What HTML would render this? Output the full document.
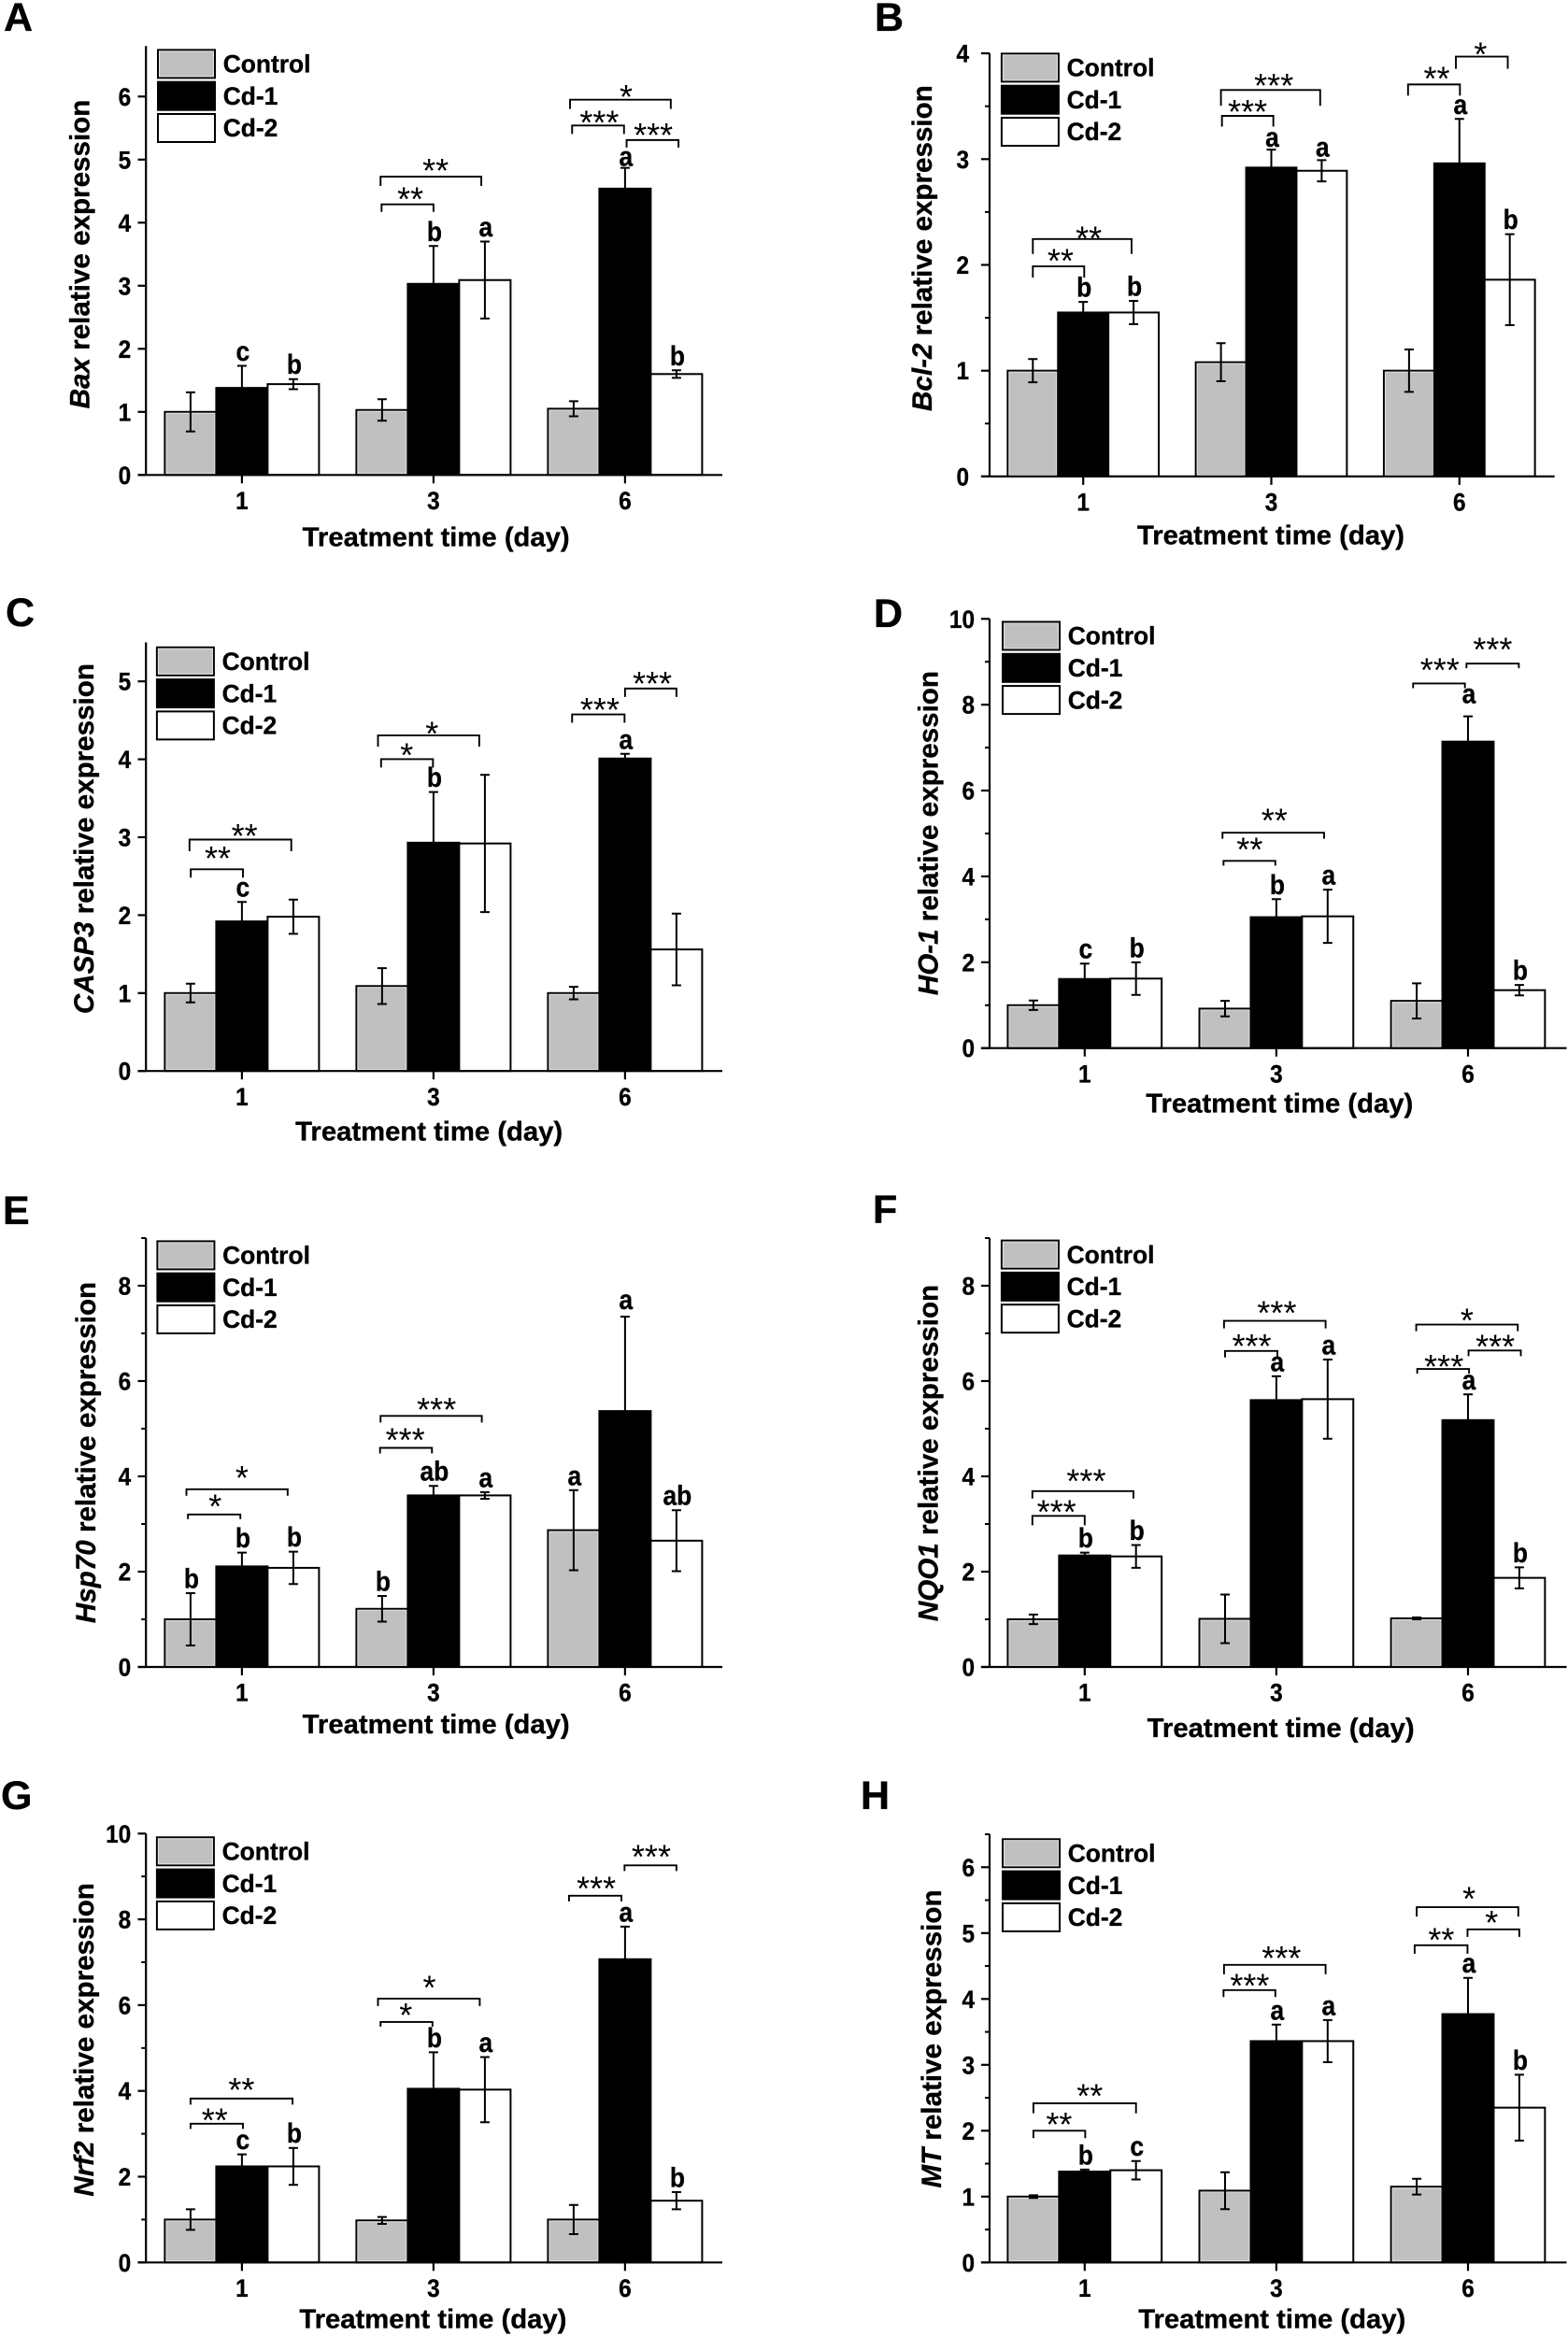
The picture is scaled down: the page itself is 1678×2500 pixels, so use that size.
<!DOCTYPE html>
<html lang="en">
<head>
<meta charset="utf-8">
<title>Relative gene expression under Cd treatment</title>
<style>
html,body{margin:0;padding:0;background:#fff;}
svg{display:block;font-family:"Liberation Sans",Arial,sans-serif;}
text[font-weight]{stroke:#000;stroke-width:.35px;}
</style>
</head>
<body>
<svg id="figure" xmlns="http://www.w3.org/2000/svg" width="1678" height="2500" viewBox="0 0 1678 2500"></svg>
<script>
const categories = ['1', '3', '6'];
const seriesNames = ['Control', 'Cd-1', 'Cd-2'];
const xAxisTitle = 'Treatment time (day)';

const aControl = [1.00, 1.03, 1.05];
const aCd1 = [1.38, 3.03, 4.54];
const aCd2 = [1.44, 3.09, 1.60];
const aErrControl = [0.31, 0.17, 0.12];
const aErrCd1 = [0.35, 0.60, 0.33];
const aErrCd2 = [0.08, 0.61, 0.06];
const aTicks = ['0', '1', '2', '3', '4', '5', '6'];
const aLettersCd1 = ['c', 'b', 'a'];
const aLettersCd2 = ['b', 'a', 'b'];

const bControl = [1.00, 1.08, 1.00];
const bCd1 = [1.55, 2.92, 2.96];
const bCd2 = [1.55, 2.89, 1.86];
const bErrControl = [0.11, 0.18, 0.20];
const bErrCd1 = [0.10, 0.17, 0.42];
const bErrCd2 = [0.11, 0.10, 0.43];
const bTicks = ['0', '1', '2', '3', '4'];
const bLettersCd1 = ['b', 'a', 'a'];
const bLettersCd2 = ['b', 'a', 'b'];

const cControl = [1.00, 1.09, 1.00];
const cCd1 = [1.92, 2.93, 4.01];
const cCd2 = [1.98, 2.92, 1.56];
const cErrControl = [0.12, 0.23, 0.08];
const cErrCd1 = [0.25, 0.65, 0.06];
const cErrCd2 = [0.22, 0.88, 0.46];
const cTicks = ['0', '1', '2', '3', '4', '5'];
const cLettersCd1 = ['c', 'b', 'a'];
const cLettersCd2 = ['', '', ''];

const dControl = [1.00, 0.92, 1.10];
const dCd1 = [1.61, 3.05, 7.14];
const dCd2 = [1.62, 3.07, 1.35];
const dErrControl = [0.11, 0.18, 0.41];
const dErrCd1 = [0.36, 0.42, 0.59];
const dErrCd2 = [0.38, 0.62, 0.12];
const dTicks = ['0', '2', '4', '6', '8', '10'];
const dLettersCd1 = ['c', 'b', 'a'];
const dLettersCd2 = ['b', 'a', 'b'];

const eControl = [1.00, 1.22, 2.87];
const eCd1 = [2.11, 3.60, 5.37];
const eCd2 = [2.08, 3.60, 2.65];
const eErrControl = [0.55, 0.27, 0.84];
const eErrCd1 = [0.29, 0.20, 1.98];
const eErrCd2 = [0.34, 0.07, 0.64];
const eTicks = ['0', '2', '4', '6', '8'];
const eLettersControl = ['b', 'b', 'a'];
const eLettersCd1 = ['b', 'ab', 'a'];
const eLettersCd2 = ['b', 'a', 'ab'];

const fControl = [1.00, 1.01, 1.02];
const fCd1 = [2.34, 5.60, 5.18];
const fCd2 = [2.32, 5.62, 1.87];
const fErrControl = [0.10, 0.51, 0.02];
const fErrCd1 = [0.06, 0.50, 0.54];
const fErrCd2 = [0.24, 0.83, 0.22];
const fTicks = ['0', '2', '4', '6', '8'];
const fLettersCd1 = ['b', 'a', 'a'];
const fLettersCd2 = ['b', 'a', 'b'];

const gControl = [1.00, 0.98, 1.00];
const gCd1 = [2.24, 4.05, 7.07];
const gCd2 = [2.24, 4.03, 1.44];
const gErrControl = [0.24, 0.08, 0.34];
const gErrCd1 = [0.28, 0.85, 0.76];
const gErrCd2 = [0.43, 0.76, 0.20];
const gTicks = ['0', '2', '4', '6', '8', '10'];
const gLettersCd1 = ['c', 'b', 'a'];
const gLettersCd2 = ['b', 'a', 'b'];

const hControl = [1.00, 1.09, 1.15];
const hCd1 = [1.38, 3.36, 3.77];
const hCd2 = [1.40, 3.36, 2.35];
const hErrControl = [0.02, 0.28, 0.12];
const hErrCd1 = [0.03, 0.25, 0.55];
const hErrCd2 = [0.14, 0.32, 0.50];
const hTicks = ['0', '1', '2', '3', '4', '5', '6'];
const hLettersCd1 = ['b', 'a', 'a'];
const hLettersCd2 = ['c', 'a', 'b'];

/* significance brackets: group, from-slot, to-slot, data level, stars, label slot, label level */
const aBrackets = [[1,-1.03,.93,4.73,'**',.04,4.91],[1,-1.01,0,4.29,'**',-.45,4.46],[2,-1.07,.89,5.95,'*',.02,6.08],[2,-1.03,-.02,5.54,'***',-.5,5.67],[2,.03,1.04,5.31,'***',.55,5.47]];
const bBrackets = [[0,-1,.96,2.245,'**',.11,2.30],[0,-1,.02,1.986,'**',-.45,2.09],[1,-1,.97,3.654,'***',.05,3.745],[1,-.98,.04,3.409,'***',-.47,3.497],[2,-1.02,.01,3.706,'**',-.45,3.81],[2,-.07,.96,3.969,'*',.42,4.04]];
const cBrackets = [[0,-1.02,.96,2.97,'**',.05,3.086],[0,-.995,.02,2.589,'**',-.47,2.797],[1,-1.08,.89,4.306,'*',-.03,4.397],[1,-1.02,-.01,4.002,'*',-.52,4.12],[2,-1.03,-.01,4.576,'***',-.49,4.70],[2,0,1,4.908,'***',.53,5.04]];
const dBrackets = [[1,-1.05,.93,5.018,'**',-.04,5.42],[1,-1.03,-.02,4.361,'**',-.52,4.746],[2,-1.07,-.06,8.494,'***',-.55,8.93],[2,-.03,.99,8.958,'***',.48,9.41]];
const eBrackets = [[0,-1.08,.89,3.73,'*',0,4.077],[0,-1.05,-.03,3.20,'*',-.52,3.478],[1,-1.03,.94,5.268,'***',.06,5.51],[1,-1.04,-.03,4.598,'***',-.55,4.874]];
const fBrackets = [[0,-1.02,.95,3.69,'***',.03,4.014],[0,-1.02,0,3.17,'***',-.55,3.367],[1,-1.02,.96,7.263,'***',.01,7.54],[1,-1,.02,6.632,'***',-.48,6.84],[2,-1.01,.97,7.185,'*',-.02,7.38],[2,-.99,.02,6.254,'***',-.47,6.41],[2,.01,1.03,6.64,'***',.53,6.83]];
const gBrackets = [[0,-1,.985,3.822,'**',-.01,4.15],[0,-1,.02,3.235,'**',-.53,3.44],[1,-1.08,.90,6.152,'*',-.08,6.53],[1,-1.03,-.02,5.608,'*',-.54,5.89],[2,-1.09,-.07,8.55,'***',-.56,8.84],[2,-.01,1,9.258,'***',.51,9.58]];
const hBrackets = [[0,-1,1,2.416,'**',.1,2.607],[0,-1,.01,2.0,'**',-.5,2.174],[1,-1.02,.96,4.517,'***',.1,4.697],[1,-1.03,-.02,4.135,'***',-.52,4.28],[2,-1,.98,5.393,'*',.02,5.6],[2,-1.04,-.01,4.815,'**',-.52,4.978],[2,-.01,1,5.056,'*',.46,5.236]];

const none = ['', '', ''];

/* layout of each panel (pixels); the data stays in the arrays above */
const panels = [
 {id:'a',letter:'A',gene:'Bax',lx:4,ly:33,axisX:156.2,t0:258.9,dt:205,bw:55,base:508.3,unit:67.5,ymax:6.8,left:147.5,right:773,gap:16,major:1,minor:0,titleGap:76,titleX:466.7,ytX:95.5,ytY:272,legX:169,legY:53.4,
  vals:[aControl,aCd1,aCd2],errs:[aErrControl,aErrCd1,aErrCd2],ticks:aTicks,letters:[none,aLettersCd1,aLettersCd2],brackets:aBrackets,drops:[10,8,10,9,8],lift:{'1,2':2}},
 {id:'b',letter:'B',gene:'Bcl-2',lx:936,ly:33,axisX:1059,t0:1159.2,dt:201.3,bw:53.9,base:509.9,unit:113.2,ymax:4,left:1049.9,right:1663.6,gap:22,major:1,minor:.5,titleGap:72.5,titleX:1360,ytX:996.9,ytY:265.6,legX:1071.9,legY:57.4,
  vals:[bControl,bCd1,bCd2],errs:[bErrControl,bErrCd1,bErrCd2],ticks:bTicks,letters:[none,bLettersCd1,bLettersCd2],brackets:bBrackets,drops:[16,12,17,11.5,12,13],lift:{'1,1':3,'2,1':4}},
 {id:'c',letter:'C',gene:'CASP3',lx:6,ly:670,axisX:156.2,t0:258.9,dt:205,bw:55,base:1146.2,unit:83.4,ymax:5.5,left:147.5,right:773,gap:16,major:1,minor:0,titleGap:74.5,titleX:459.2,ytX:99.8,ytY:897.6,legX:167.9,legY:692.8,
  vals:[cControl,cCd1,cCd2],errs:[cErrControl,cErrCd1,cErrCd2],ticks:cTicks,letters:[none,cLettersCd1,cLettersCd2],brackets:cBrackets,drops:[12.5,9,12,9,9,9],lift:{}},
 {id:'d',letter:'D',gene:'HO-1',lx:935,ly:671,axisX:1059,t0:1160.8,dt:205.1,bw:54.9,base:1121.7,unit:45.94,ymax:10,left:1049.9,right:1676.5,gap:16,major:2,minor:1,titleGap:69,titleX:1369.3,ytX:1003.3,ytY:891.6,legX:1073,legY:665.5,
  vals:[dControl,dCd1,dCd2],errs:[dErrControl,dErrCd1,dErrCd2],ticks:dTicks,letters:[none,dLettersCd1,dLettersCd2],brackets:dBrackets,drops:[6.5,5,5,5],lift:{'1,2':14}},
 {id:'e',letter:'E',gene:'Hsp70',lx:3,ly:1310,axisX:156.2,t0:258.9,dt:205,bw:55,base:1784,unit:51,ymax:9,left:147.5,right:773,gap:16,major:2,minor:1,titleGap:71,titleX:466.7,ytX:102,ytY:1554.5,legX:168.4,legY:1328.4,
  vals:[eControl,eCd1,eCd2],errs:[eErrControl,eErrCd1,eErrCd2],ticks:eTicks,letters:[eLettersControl,eLettersCd1,eLettersCd2],brackets:eBrackets,drops:[7,5,7,6],lift:{'1,2':8}},
 {id:'f',letter:'F',gene:'NQO1',lx:934,ly:1309,axisX:1059,t0:1160.8,dt:205.1,bw:54.9,base:1784,unit:51,ymax:9,left:1049.9,right:1676.5,gap:16,major:2,minor:1,titleGap:75,titleX:1370.7,ytX:1003.3,ytY:1555,legX:1071.9,legY:1327.6,
  vals:[fControl,fCd1,fCd2],errs:[fErrControl,fErrCd1,fErrCd2],ticks:fTicks,letters:[none,fLettersCd1,fLettersCd2],brackets:fBrackets,drops:[8,10,8,7,7,5,6],lift:{}},
 {id:'g',letter:'G',gene:'Nrf2',lx:1,ly:1936,axisX:156.2,t0:258.9,dt:205,bw:55,base:2421.3,unit:45.9,ymax:10,left:147.5,right:773,gap:16,major:2,minor:1,titleGap:70,titleX:463.4,ytX:99.8,ytY:2182.9,legX:167.9,legY:1966.3,
  vals:[gControl,gCd1,gCd2],errs:[gErrControl,gErrCd1,gErrCd2],ticks:gTicks,letters:[none,gLettersCd1,gLettersCd2],brackets:gBrackets,drops:[6.5,5.5,8,5,6,6],lift:{}},
 {id:'h',letter:'H',gene:'MT',lx:921,ly:1936,axisX:1059,t0:1160.8,dt:205.1,bw:54.9,base:2421.3,unit:70.5,ymax:6.5,left:1049.9,right:1676.5,gap:16,major:1,minor:.5,titleGap:70,titleX:1361.3,ytX:1007,ytY:2182,legX:1073,legY:1968.3,
  vals:[hControl,hCd1,hCd2],errs:[hErrControl,hErrCd1,hErrCd2],ticks:hTicks,letters:[none,hLettersCd1,hLettersCd2],brackets:hBrackets,drops:[10.7,8,10,7.5,10,9,8],lift:{}}
];

const fills = ['#c0c0c0', '#000000', '#ffffff'];
const NS = 'http://www.w3.org/2000/svg';
const root = document.getElementById('figure');

function shape(parent, tag, props) {
  const el = document.createElementNS(NS, tag);
  Object.keys(props).forEach(function (k) { el.setAttribute(k, props[k]); });
  parent.appendChild(el);
  return el;
}
function yScale(p, v) { return p.base - v * p.unit; }
function xCenter(p, g, s) { return p.t0 + g * p.dt + (s - 1) * p.bw; }
function xSlot(p, g, slot) { return p.t0 + g * p.dt + slot * p.bw; }

panels.forEach(function (p) {
  const panel = shape(root, 'g', {});
  
  

  const panelLetter = shape(panel, 'text', {x: p.lx, y: p.ly, 'font-size': 43, 'font-weight': 'bold'});
  panelLetter.textContent = p.letter;
  
  

  /* bars */
  p.vals.forEach(function (series, s) {
    series.forEach(function (v, g) {
      const cx = xCenter(p, g, s);
      const bar = shape(panel, 'rect', {x: cx - p.bw / 2, y: yScale(p, v), width: p.bw, height: v * p.unit, fill: fills[s], stroke: '#000', 'stroke-width': 2});
      
      
      if (s === 0) {
        const edge = shape(panel, 'rect', {x: cx - p.bw / 2 + 1.5, y: yScale(p, v) + 1.5, width: p.bw - 3, height: Math.max(0, v * p.unit - 3), fill: 'none', stroke: '#e4e4e4', 'stroke-width': 1});
        
        
      }
    });
  });

  /* error bars */
  p.vals.forEach(function (series, s) {
    series.forEach(function (v, g) {
      const cx = xCenter(p, g, s);
      const e = p.errs[s][g];
      const top = yScale(p, v + e);
      const bot = yScale(p, v - e);
      const d = 'M' + cx + ' ' + top + 'V' + bot + 'M' + (cx - 5) + ' ' + top + 'H' + (cx + 5) + 'M' + (cx - 5) + ' ' + bot + 'H' + (cx + 5);
      const err = shape(panel, 'path', {d: d, fill: 'none', stroke: '#000', 'stroke-width': 2});
      
      

      const letter = p.letters[s][g];
      if (letter) {
        const lift = p.lift[s + ',' + g] !== undefined ? p.lift[s + ',' + g] : 5.5;
        const sig = shape(panel, 'text', {transform: 'translate(' + (cx + 1) + ' ' + (top - lift) + ') scale(.88 1)', 'font-size': 30, 'font-weight': 'bold', 'text-anchor': 'middle'});
        sig.textContent = letter;
        
        
      }
    });
  });

  /* axes */
  const yAxis = shape(panel, 'line', {x1: p.axisX, x2: p.axisX, y1: yScale(p, p.ymax), y2: p.base, stroke: '#000', 'stroke-width': 2.2});
  
  
  const xAxis = shape(panel, 'line', {x1: p.left, x2: p.right, y1: p.base, y2: p.base, stroke: '#000', 'stroke-width': 2.2});
  
  

  p.ticks.forEach(function (label, i) {
    const y = yScale(p, i * p.major);
    const tick = shape(panel, 'line', {x1: p.left, x2: p.axisX, y1: y, y2: y, stroke: '#000', 'stroke-width': 2.2});
    
    
    const lab = shape(panel, 'text', {transform: 'translate(' + (p.axisX - p.gap) + ' ' + (y + 9.5) + ') scale(.92 1)', 'font-size': 26.5, 'font-weight': 'bold', 'text-anchor': 'end'});
    lab.textContent = label;
    
    
  });
  if (p.minor) {
    for (let v = p.minor; v <= p.ymax + 1e-6; v += 2 * p.minor) {
      const minorTick = shape(panel, 'line', {x1: p.axisX - 5, x2: p.axisX, y1: yScale(p, v), y2: yScale(p, v), stroke: '#000', 'stroke-width': 2});
      
      
    }
  }
  categories.forEach(function (label, g) {
    const x = xSlot(p, g, 0);
    const tick = shape(panel, 'line', {x1: x, x2: x, y1: p.base, y2: p.base + 9, stroke: '#000', 'stroke-width': 2.2});
    
    
    const lab = shape(panel, 'text', {transform: 'translate(' + x + ' ' + (p.base + 36.7) + ') scale(.92 1)', 'font-size': 26.5, 'font-weight': 'bold', 'text-anchor': 'middle'});
    lab.textContent = label;
    
    
  });

  /* axis titles */
  const xt = shape(panel, 'text', {x: p.titleX, y: p.base + p.titleGap, 'font-size': 28.5, 'font-weight': 'bold', 'text-anchor': 'middle', textLength: 286, lengthAdjust: 'spacingAndGlyphs'});
  xt.textContent = xAxisTitle;
  
  

  const yt = shape(panel, 'text', {transform: 'translate(' + p.ytX + ' ' + p.ytY + ') rotate(-90)', 'font-size': 29.6, 'font-weight': 'bold', 'text-anchor': 'middle'});
  
  
  const gene = shape(yt, 'tspan', {'font-style': 'italic'});
  gene.textContent = p.gene;
  const rest = shape(yt, 'tspan', {});
  rest.textContent = ' relative expression';

  /* brackets */
  p.brackets.forEach(function (b, i) {
    const y = yScale(p, b[3]);
    const x1 = xSlot(p, b[0], b[1]);
    const x2 = xSlot(p, b[0], b[2]);
    const d = 'M' + x1 + ' ' + (y + p.drops[i]) + 'V' + y + 'H' + x2 + 'V' + (y + p.drops[i]);
    const br = shape(panel, 'path', {d: d, fill: 'none', stroke: '#000', 'stroke-width': 1.9});
    
    
    const star = shape(panel, 'text', {x: xSlot(p, b[0], b[5]), y: yScale(p, b[6]) + 18, 'font-size': 36, 'text-anchor': 'middle'});
    star.textContent = b[4];
    
    
  });

  /* legend */
  seriesNames.forEach(function (name, s) {
    const y = p.legY + s * 34.3;
    const sw = shape(panel, 'rect', {x: p.legX, y: y, width: 61, height: 30, fill: fills[s], stroke: '#000', 'stroke-width': 2});
    
    
    if (s === 0) {
      const inner = shape(panel, 'rect', {x: p.legX + 1.5, y: y + 1.5, width: 58, height: 27, fill: 'none', stroke: '#e4e4e4', 'stroke-width': 1});
      
      
    }
    const lt = shape(panel, 'text', {x: p.legX + 69.7, y: y + 24.2, 'font-size': 26.4, 'font-weight': 'bold'});
    lt.textContent = name;
    
    
  });
});
</script>
</body>
</html>
